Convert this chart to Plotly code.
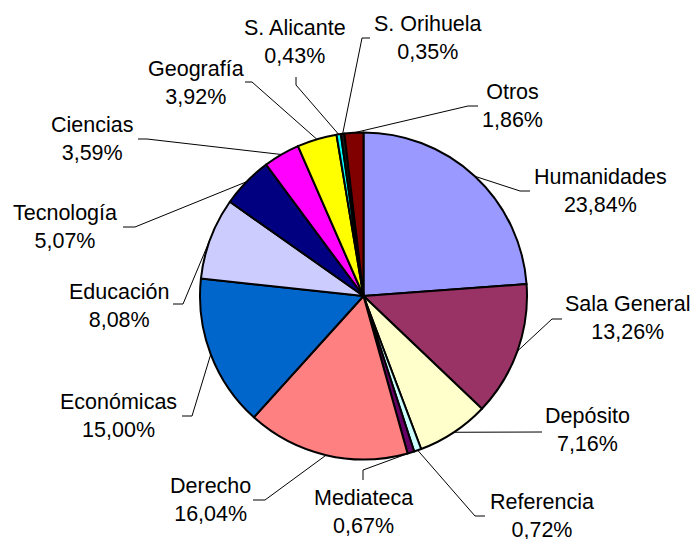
import math
import plotly.graph_objects as go

# ---- data ----
categories = ["Humanidades", "Sala General", "Depósito", "Referencia", "Mediateca",
              "Derecho", "Económicas", "Educación", "Tecnología", "Ciencias",
              "Geografía", "S. Alicante", "S. Orihuela", "Otros"]
values = [23.84, 13.26, 7.16, 0.72, 0.67, 16.04, 15.00, 8.08, 5.07, 3.59,
          3.92, 0.43, 0.35, 1.86]
colors = ["#9999FF", "#993366", "#FFFFCC", "#CCFFFF", "#660066", "#FF8080",
          "#0066CC", "#CCCCFF", "#000080", "#FF00FF", "#FFFF00", "#00FFFF",
          "#1A1A1A", "#800000"]

# ---- layout (pixel positions of labels and leader-line elbows) ----
W, H = 695, 539
CX, CY, R = 363.5, 296.0, 163.5
label_pos = [(600, 191), (628, 318), (587, 430), (542, 516), (363, 512),
             (210, 500), (118, 416), (119, 306), (65, 227), (92, 139),
             (196, 83), (295, 42), (428, 38), (512, 106)]
elbow_pos = [(520, 191), (552, 319), (535, 432), (475, 516), (363, 470),
             (265, 500), (192, 416), (183, 304), (135, 227), (147, 139),
             (252, 82), (296, 85), (362, 38), (468, 106)]
end_pos = [(530, 191), (562, 319), (542, 432), (485, 516), (363, 480),
           (253, 500), (182, 416), (173, 304), (123, 227), (138, 139),
           (245, 82), (296, 77), (370, 38), (478, 106)]

FONT = "Liberation Sans, Arial, sans-serif"

fig = go.Figure()
fig.add_trace(go.Pie(
    labels=categories, values=values, sort=False, direction="clockwise",
    rotation=0, textinfo="none", hoverinfo="skip", showlegend=False,
    marker=dict(colors=colors, line=dict(color="black", width=2)),
    domain=dict(x=[(CX - R) / W, (CX + R) / W], y=[1 - (CY + R) / H, 1 - (CY - R) / H]),
))

# leader lines from slice mid-angle on the rim
total = sum(values)
xs, ys = [], []
cum = 0.0
for i, v in enumerate(values):
    mid = (cum + v / 2) / total * 2 * math.pi
    cum += v
    ex = CX + R * math.sin(mid)
    ey = CY - R * math.cos(mid)
    xs += [ex, elbow_pos[i][0], end_pos[i][0], None]
    ys += [ey, elbow_pos[i][1], end_pos[i][1], None]
fig.add_trace(go.Scatter(x=xs, y=ys, mode="lines", line=dict(color="black", width=1),
                         hoverinfo="skip", showlegend=False))

for i, (c, v) in enumerate(zip(categories, values)):
    txt = c + "<br>" + f"{v:.2f}".replace(".", ",") + "%"
    fig.add_annotation(x=label_pos[i][0], y=label_pos[i][1], xref="x", yref="y",
                       text=txt, showarrow=False, xanchor="center", yanchor="middle",
                       align="center", font=dict(family=FONT, size=21.5, color="black"))

fig.update_layout(
    width=W, height=H, margin=dict(l=0, r=0, t=0, b=0),
    paper_bgcolor="white", plot_bgcolor="rgba(0,0,0,0)",
    xaxis=dict(range=[0, W], visible=False, domain=[0, 1], fixedrange=True),
    yaxis=dict(range=[H, 0], visible=False, domain=[0, 1], fixedrange=True),
)
fig.write_html("out.html", config={"displayModeBar": False},
               post_script="document.body.style.margin='0';document.body.style.overflow='hidden';")
